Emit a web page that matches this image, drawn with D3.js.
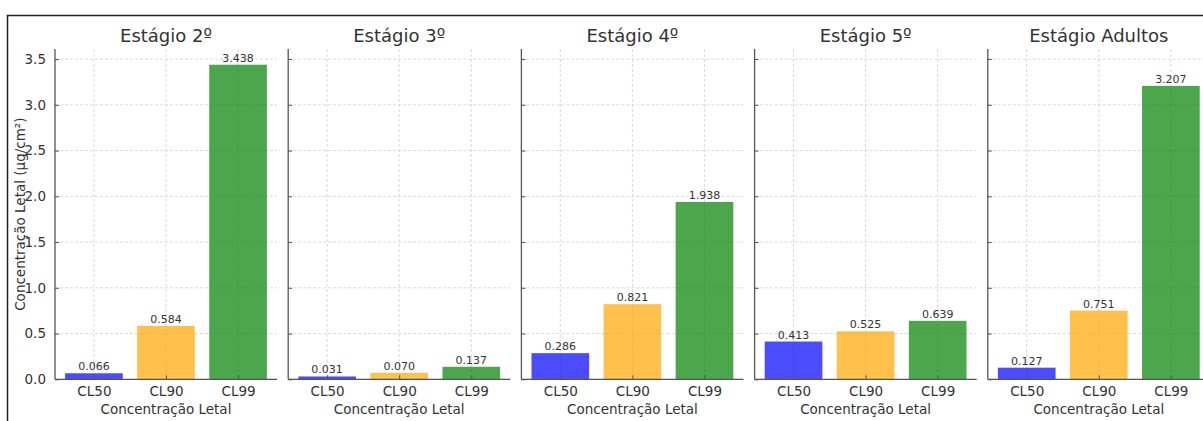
<!DOCTYPE html>
<html>
<head>
<meta charset="utf-8">
<script src="https://cdn.jsdelivr.net/npm/d3@7/dist/d3.min.js"></script>
<style>
  html, body { margin: 0; padding: 0; background: #fff; }
  svg { display: block; font-family: "DejaVu Sans", sans-serif; }
</style>
</head>
<body>
<svg id="chart" width="1203" height="421"></svg>
<script>
// Lethal concentrations per development stage
const stages = ["Estágio 2º", "Estágio 3º", "Estágio 4º", "Estágio 5º", "Estágio Adultos"];
const categories = ["CL50", "CL90", "CL99"];
const cl50 = [0.066, 0.031, 0.286, 0.413, 0.127];
const cl90 = [0.584, 0.070, 0.821, 0.525, 0.751];
const cl99 = [3.438, 0.137, 1.938, 0.639, 3.207];
const yTicks = [0, 0.5, 1.0, 1.5, 2.0, 2.5, 3.0, 3.5];
const barColors = ["rgb(0,0,255)", "rgb(255,165,0)", "rgb(0,128,0)"];

const series = [cl50, cl90, cl99];
const svg = d3.select("#chart");

// outer figure frame
svg.append("rect")
  .attr("x", 7.5).attr("y", 15.5)
  .attr("width", 1400).attr("height", 600)
  .attr("fill", "none").attr("stroke", "#222").attr("stroke-width", 1.5);

const panelLeft0 = 55, panelStep = 233.2, panelW = 222;
const plotTop = 49, plotBottom = 379.3;
const yMax = d3.max(series.flat()) * 1.05;

const y = d3.scaleLinear().domain([0, yMax]).range([plotBottom, plotTop]);

stages.forEach((stage, i) => {
  const left = panelLeft0 + i * panelStep;
  const x = d3.scaleLinear().domain([-0.54, 2.54]).range([left, left + panelW]);
  const bw = x(0.8) - x(0);
  const g = svg.append("g");

  // grid
  g.selectAll("line.gy").data(yTicks).join("line")
    .attr("x1", left).attr("x2", left + panelW)
    .attr("y1", d => y(d)).attr("y2", d => y(d))
    .attr("stroke", "#cfcfcf").attr("stroke-width", 0.8)
    .attr("stroke-dasharray", "3,2");
  g.selectAll("line.gx").data(categories).join("line")
    .attr("x1", (d, j) => x(j)).attr("x2", (d, j) => x(j))
    .attr("y1", plotTop).attr("y2", plotBottom)
    .attr("stroke", "#cfcfcf").attr("stroke-width", 0.8)
    .attr("stroke-dasharray", "3,2");

  const vals = series.map(s => s[i]);

  // semi-transparent bars
  g.selectAll("rect.bar").data(vals).join("rect")
    .attr("x", (d, j) => x(j) - bw / 2)
    .attr("width", bw)
    .attr("y", d => y(d))
    .attr("height", d => y(0) - y(d))
    .attr("fill", (d, j) => barColors[j])
    .attr("fill-opacity", 0.7);

  // value labels
  g.selectAll("text.val").data(vals).join("text")
    .attr("x", (d, j) => x(j))
    .attr("y", d => y(d) - 3)
    .attr("text-anchor", "middle")
    .attr("font-size", 11)
    .attr("fill", "#333")
    .text(d => d.toFixed(3));

  // y axis with inward ticks
  const yAxis = d3.axisLeft(y).tickValues(yTicks).tickSizeInner(-4).tickSizeOuter(0)
    .tickPadding(9).tickFormat(i === 0 ? d3.format(".1f") : () => "");
  const ya = g.append("g").attr("transform", `translate(${left},0)`).call(yAxis);
  ya.select(".domain").attr("stroke", "#555").attr("stroke-width", 1.3)
    .attr("d", `M0,${plotTop}V${plotBottom}`);
  ya.selectAll(".tick line").attr("stroke", "#555");
  ya.selectAll(".tick text").attr("font-size", 13.5).attr("fill", "#333")
    .attr("font-family", "DejaVu Sans");

  // x axis with inward ticks
  const xAxis = d3.axisBottom(x).tickValues([0, 1, 2]).tickSizeInner(-4).tickSizeOuter(0)
    .tickPadding(7).tickFormat(d => categories[d]);
  const xa = g.append("g").attr("transform", `translate(0,${plotBottom})`).call(xAxis);
  xa.select(".domain").attr("stroke", "#555").attr("stroke-width", 1.3)
    .attr("d", `M${left},0H${left + panelW}`);
  xa.selectAll(".tick line").attr("stroke", "#555");
  xa.selectAll(".tick text").attr("font-size", 13.5).attr("fill", "#333")
    .attr("font-family", "DejaVu Sans");

  // x axis title
  g.append("text")
    .attr("x", left + panelW / 2).attr("y", 414)
    .attr("text-anchor", "middle").attr("font-size", 13.5).attr("fill", "#333")
    .text("Concentração Letal");

  // panel title
  g.append("text")
    .attr("x", left + panelW / 2).attr("y", 42)
    .attr("text-anchor", "middle").attr("font-size", 18).attr("fill", "#333")
    .text(stage);
});

// shared y axis title
svg.append("text")
  .attr("transform", `translate(25,${(plotTop + plotBottom) / 2}) rotate(-90)`)
  .attr("text-anchor", "middle").attr("font-size", 13.5).attr("fill", "#333")
  .text("Concentração Letal (µg/cm²)");
</script>
</body>
</html>
